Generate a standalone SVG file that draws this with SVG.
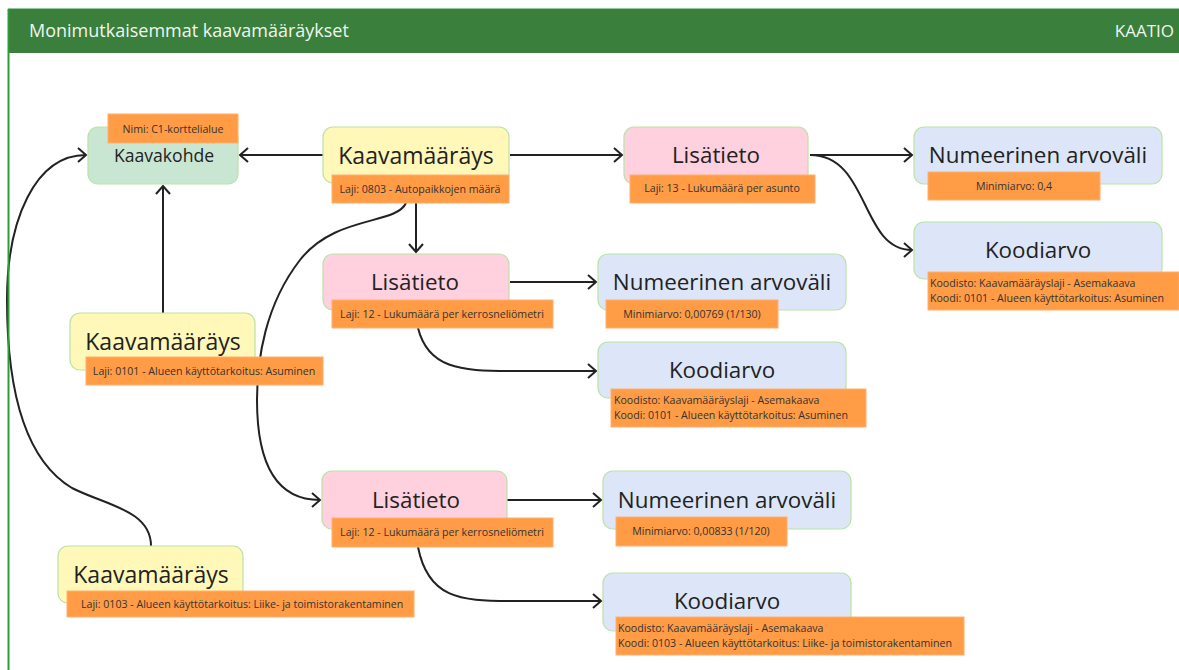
<svg xmlns="http://www.w3.org/2000/svg" width="1179" height="670" viewBox="0 0 1179 670">
<style>
.node{stroke:#b9e3a6;stroke-width:1.2}
.km{fill:#fff8b8}.kk{fill:#c9e6d3}.li{fill:#ffd0de}.nu{fill:#dde6f8}
.lab{fill:#ff9c45;stroke:#ffb070;stroke-width:1}
.t{font-family:"Open Sans","Noto Sans",sans-serif;fill:#222;text-anchor:middle}
.tb{font-size:22.4px}.tk{font-size:17.6px}
.ts{font-family:"Open Sans","Noto Sans",sans-serif;fill:#333;font-size:10.6px}
.c{text-anchor:middle}
.con{fill:none;stroke:#222;stroke-width:2}
</style>
<defs>
<marker id="ar" markerWidth="12" markerHeight="16" refX="9" refY="8" orient="auto" markerUnits="userSpaceOnUse">
<path d="M1,1 L9,8 L1,15" fill="none" stroke="#222" stroke-width="2"/>
</marker>
</defs>
<rect x="0" y="0" width="1179" height="670" fill="#fff"/>
<rect x="8" y="9" width="1171" height="44" fill="#3a7f3c"/>
<line x1="8" y1="9" x2="1179" y2="9" fill="none" stroke="#2e8b3a" stroke-width="1"/>
<text x="29" y="37" font-family="Open Sans, Noto Sans, sans-serif" font-size="18" fill="#eef6ee">Monimutkaisemmat kaavamääräykset</text>
<text x="1174" y="37" font-family="Open Sans, Noto Sans, sans-serif" font-size="17" fill="#eef6ee" text-anchor="end">KAATIO</text>

<g id="connectors">
<path class="con" d="M323,155 L240,155" marker-end="url(#ar)"/>
<path class="con" d="M510,155 L622,155" marker-end="url(#ar)"/>
<path class="con" d="M810,155 L912,155" marker-end="url(#ar)"/>
<path class="con" d="M810,155 C870,155 860,250 912,250" marker-end="url(#ar)"/>
<path class="con" d="M416,203 L416,252" marker-end="url(#ar)"/>
<path class="con" d="M406,203 C396,225 335,215 300,260 C265,305 257,360 257,400 C257,470 280,500 320,500" marker-end="url(#ar)"/>
<path class="con" d="M510,282 L596,282" marker-end="url(#ar)"/>
<path class="con" d="M418,328 C428,368 460,371 510,371 L596,371" marker-end="url(#ar)"/>
<path class="con" d="M507,500 L601,500" marker-end="url(#ar)"/>
<path class="con" d="M418,547 C428,598 460,601 510,601 L601,601" marker-end="url(#ar)"/>
<path class="con" d="M163,313 L163,186" marker-end="url(#ar)"/>
<path class="con" d="M151,546 C151,510 105,505 72,488 C25,460 7,390 7,300 C7,220 35,155 86,155" marker-end="url(#ar)"/>
</g>

<line x1="8.5" y1="9" x2="8.5" y2="670" stroke="#2e9b3a" stroke-width="2"/>

<g id="kaavakohde">
<rect class="node kk" x="88" y="127" width="150" height="57" rx="10"/>
<rect class="lab" x="108" y="114" width="130" height="29"/>
<text class="ts c" x="173" y="133" text-anchor="middle">Nimi: C1-korttelialue</text>
<text class="t tk" x="164" y="162">Kaavakohde</text>
</g>

<g id="kaavamaarays-1">
<rect class="node km" x="323" y="127" width="186" height="56" rx="10"/>
<text class="t" x="416" y="164" font-size="23">Kaavamääräys</text>
<rect class="lab" x="332" y="175" width="177" height="28"/>
<text class="ts" x="420" y="193" text-anchor="middle">Laji: 0803 - Autopaikkojen määrä</text>
</g>

<g id="lisatieto-1">
<rect class="node li" x="624" y="127" width="184" height="57" rx="10"/>
<text class="t tb" x="716" y="163">Lisätieto</text>
<rect class="lab" x="630" y="175" width="185" height="28"/>
<text class="ts" x="722" y="192" text-anchor="middle">Laji: 13 - Lukumäärä per asunto</text>
</g>

<g id="numeerinen-1">
<rect class="node nu" x="914" y="127" width="248" height="57" rx="10"/>
<text class="t tb" x="1038" y="163">Numeerinen arvoväli</text>
<rect class="lab" x="928" y="172" width="172" height="28"/>
<text class="ts" x="1014" y="190" text-anchor="middle">Minimiarvo: 0,4</text>
</g>

<g id="koodiarvo-1">
<rect class="node nu" x="914" y="222" width="248" height="57" rx="10"/>
<text class="t tb" x="1038" y="258">Koodiarvo</text>
<rect class="lab" x="928" y="272" width="251" height="38"/>
<text class="ts" x="930" y="287">Koodisto: Kaavamääräyslaji - Asemakaava</text>
<text class="ts" x="930" y="302">Koodi: 0101 - Alueen käyttötarkoitus: Asuminen</text>
</g>

<g id="lisatieto-2">
<rect class="node li" x="323" y="254" width="186" height="56" rx="10"/>
<text class="t tb" x="415" y="290">Lisätieto</text>
<rect class="lab" x="332" y="300" width="221" height="28"/>
<text class="ts" x="442" y="318" text-anchor="middle">Laji: 12 - Lukumäärä per kerrosneliömetri</text>
</g>

<g id="numeerinen-2">
<rect class="node nu" x="598" y="254" width="248" height="56" rx="10"/>
<text class="t tb" x="722" y="290">Numeerinen arvoväli</text>
<rect class="lab" x="606" y="300" width="172" height="28"/>
<text class="ts" x="692" y="318" text-anchor="middle">Minimiarvo: 0,00769 (1/130)</text>
</g>

<g id="koodiarvo-2">
<rect class="node nu" x="598" y="342" width="248" height="56" rx="10"/>
<text class="t tb" x="722" y="378">Koodiarvo</text>
<rect class="lab" x="611" y="389" width="255" height="38"/>
<text class="ts" x="614" y="404">Koodisto: Kaavamääräyslaji - Asemakaava</text>
<text class="ts" x="614" y="419">Koodi: 0101 - Alueen käyttötarkoitus: Asuminen</text>
</g>

<g id="kaavamaarays-2">
<rect class="node km" x="70" y="313" width="185" height="57" rx="10"/>
<text class="t" x="163" y="350" font-size="23">Kaavamääräys</text>
<rect class="lab" x="86" y="357" width="237" height="28"/>
<text class="ts" x="204" y="375" text-anchor="middle">Laji: 0101 - Alueen käyttötarkoitus: Asuminen</text>
</g>

<g id="lisatieto-3">
<rect class="node li" x="322" y="471" width="185" height="58" rx="10"/>
<text class="t tb" x="416" y="508">Lisätieto</text>
<rect class="lab" x="332" y="518" width="221" height="29"/>
<text class="ts" x="442" y="536" text-anchor="middle">Laji: 12 - Lukumäärä per kerrosneliömetri</text>
</g>

<g id="numeerinen-3">
<rect class="node nu" x="603" y="471" width="248" height="58" rx="10"/>
<text class="t tb" x="727" y="508">Numeerinen arvoväli</text>
<rect class="lab" x="616" y="517" width="171" height="29"/>
<text class="ts" x="701" y="535" text-anchor="middle">Minimiarvo: 0,00833 (1/120)</text>
</g>

<g id="koodiarvo-3">
<rect class="node nu" x="603" y="573" width="248" height="58" rx="10"/>
<text class="t tb" x="727" y="609">Koodiarvo</text>
<rect class="lab" x="616" y="617" width="348" height="38"/>
<text class="ts" x="618" y="632">Koodisto: Kaavamääräyslaji - Asemakaava</text>
<text class="ts" x="618" y="647">Koodi: 0103 - Alueen käyttötarkoitus: Liike- ja toimistorakentaminen</text>
</g>

<g id="kaavamaarays-3">
<rect class="node km" x="58" y="546" width="185" height="57" rx="10"/>
<text class="t" x="151" y="583" font-size="23">Kaavamääräys</text>
<rect class="lab" x="67" y="591" width="347" height="26"/>
<text class="ts" x="81" y="608">Laji: 0103 - Alueen käyttötarkoitus: Liike- ja toimistorakentaminen</text>
</g>
</svg>
